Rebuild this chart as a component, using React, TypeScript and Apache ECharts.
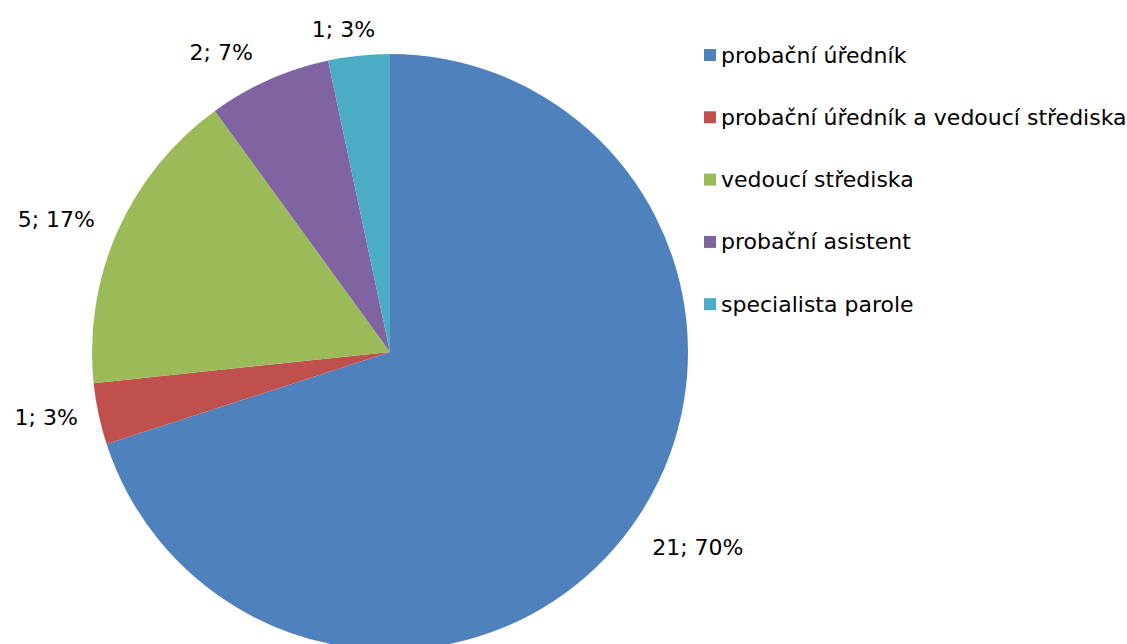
import React, { useEffect, useRef } from "react";
import * as echarts from "echarts";

const categories = [
  "probační úředník",
  "probační úředník a vedoucí střediska",
  "vedoucí střediska",
  "probační asistent",
  "specialista parole",
];
const values = [21, 1, 5, 2, 1];
const colors = ["#4F81BD", "#C0504D", "#9BBB59", "#8064A2", "#4BACC6"];
// label offsets (length, length2) per slice, mimicking the original label placement
const labelLen = [34, 19, 26.6, 29.3, 25.8];
const labelLen2 = [-6.4, 2, -1.5, 4, -19];

export default function App() {
  const ref = useRef<HTMLDivElement>(null);
  useEffect(() => {
    if (!ref.current) return;
    const chart = echarts.init(ref.current, undefined, { renderer: "svg" });
    const total = values.reduce((a, b) => a + b, 0);
    chart.setOption({
      animation: false,
      backgroundColor: "#ffffff",
      textStyle: { fontFamily: "DejaVu Sans" },
      color: colors,
      legend: {
        orient: "vertical",
        left: 699,
        top: 39,
        itemWidth: 12,
        itemHeight: 12,
        itemGap: 40.3,
        icon: "rect",
        textStyle: { fontSize: 22, color: "#000", fontFamily: "DejaVu Sans" },
        data: categories,
      },
      series: [
        {
          type: "pie",
          center: [390, 352],
          radius: 298,
          startAngle: 90,
          clockwise: true,
          avoidLabelOverlap: false,
          itemStyle: { borderWidth: 0 },
          label: {
            show: true,
            position: "outside",
            fontSize: 22,
            color: "#000",
            fontFamily: "DejaVu Sans",
            distanceToLabelLine: 0,
            formatter: (p: any) => `${p.value}; ${Math.round((p.value / total) * 100)}%`,
          },
          labelLine: { show: false, length: 30, length2: 0 },
          emphasis: { disabled: true },
          data: categories.map((c, i) => ({
            name: c,
            value: values[i],
            labelLine: { show: false, length: labelLen[i], length2: labelLen2[i] },
          })),
        },
      ],
    });
    return () => chart.dispose();
  }, []);
  return (
    <div
      ref={ref}
      style={{ position: "fixed", left: 0, top: 0, width: 1127, height: 644 }}
    />
  );
}
